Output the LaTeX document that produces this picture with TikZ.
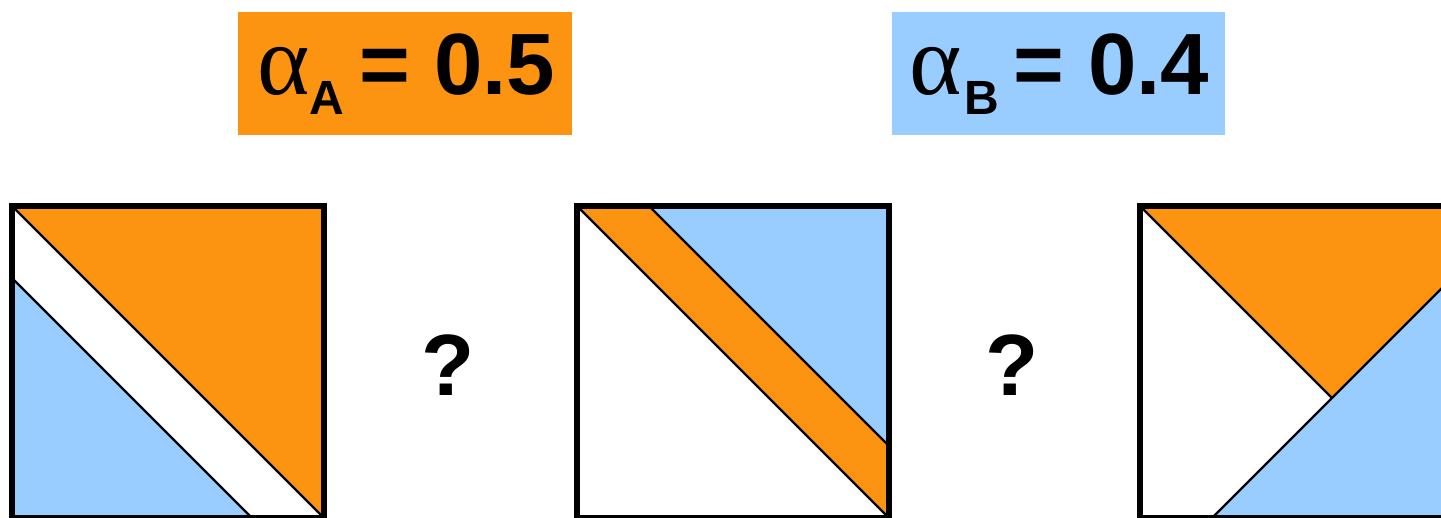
\documentclass[tikz,border=0pt]{standalone}
\usepackage{fontspec}
\setmainfont{Liberation Sans}
\newfontfamily\greekfont{Liberation Serif}
\definecolor{orng}{RGB}{252,148,18}
\definecolor{lblue}{RGB}{153,204,255}
\tikzset{
  frame/.style={draw=black, line width=3pt, line join=miter},
  cut/.style={draw=black, line width=1.2pt},
  txt/.style={anchor=base west, inner sep=0pt, text=black},
  big/.style={font=\bfseries\fontsize{43.5}{44}\selectfont},
  sub/.style={font=\bfseries\fontsize{24}{24}\selectfont},
  alph/.style={font=\greekfont\fontsize{50}{50}\selectfont},
}
\begin{document}
\begin{tikzpicture}[x=0.5pt,y=-0.5pt]
\useasboundingbox (0,0) rectangle (1441,518);
\clip (0,0) rectangle (1441,518);
% label boxes
\fill[orng] (238,12) rectangle (572,135);
\fill[lblue] (892,12) rectangle (1225,135);
\node[txt,alph] (alA) at (257,95) {α};
\node[txt,sub] (subA) at (309,115) {A};
\node[txt,big] (valA) at (359,95) {= 0.5};
\node[txt,alph] (alB) at (909,95) {α};
\node[txt,sub] (subB) at (964,115) {B};
\node[txt,big] (valB) at (1013,95) {= 0.4};
% question marks
\node[anchor=base, inner sep=0pt, big] (q1) at (448,395) {?};
\node[anchor=base, inner sep=0pt, big] (q2) at (1012,395) {?};
% square 1
\fill[orng] (12,206) -- (324,206) -- (324,518) -- cycle;
\fill[lblue] (12,278) -- (12,518) -- (252,518) -- cycle;
\draw[cut] (12,206) -- (324,518);
\draw[cut] (12,278) -- (252,518);
\draw[frame] (12,206) rectangle (324,518);
% square 2
\fill[orng] (577,206) -- (649,206) -- (889,446) -- (889,518) -- cycle;
\fill[lblue] (649,206) -- (889,206) -- (889,446) -- cycle;
\draw[cut] (577,206) -- (889,518);
\draw[cut] (649,206) -- (889,446);
\draw[frame] (577,206) rectangle (889,518);
% square 3
\fill[orng] (1140,206) -- (1452,206) -- (1452,278) -- (1332,398) -- cycle;
\fill[lblue] (1212,518) -- (1452,278) -- (1452,518) -- cycle;
\draw[cut] (1140,206) -- (1332,398);
\draw[cut] (1212,518) -- (1452,278);
\draw[frame] (1140,206) rectangle (1452,518);
\end{tikzpicture}
\end{document}
